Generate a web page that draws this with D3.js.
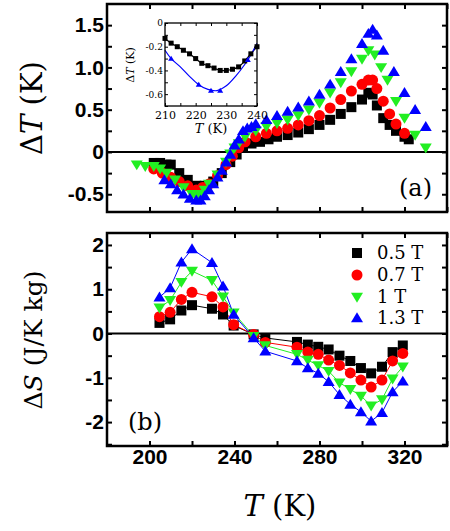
<!DOCTYPE html>
<html><head><meta charset="utf-8">
<script src="https://cdn.jsdelivr.net/npm/d3@7"></script>
<style>body{margin:0;background:#fff}</style></head>
<body><svg id="c" width="450" height="531"></svg>
<script>
// Panel (a) data: [T, dT]
const aBlack=[[202,-0.13],[205,-0.13],[208,-0.15],[210,-0.15],[214,-0.25],[218,-0.33],[222,-0.4],[226,-0.4],[230,-0.35],[234,-0.25],[238,-0.12],[241,-0.03],[244,0.05],[248,0.1],[252,0.12],[256,0.15],[260,0.18],[265,0.2],[270,0.23],[275,0.27],[280,0.32],[285,0.38],[290,0.45],[295,0.53],[300,0.62],[303,0.7],[305,0.68],[307,0.55],[310,0.4],[313,0.32],[316,0.25],[320,0.18],[322,0.15]];
const aRed=[[202,-0.2],[206,-0.25],[210,-0.3],[214,-0.35],[218,-0.4],[222,-0.45],[225,-0.42],[228,-0.38],[232,-0.28],[236,-0.15],[239,-0.05],[242,0.05],[245,0.12],[250,0.18],[255,0.22],[260,0.25],[265,0.28],[270,0.32],[275,0.37],[280,0.43],[285,0.52],[290,0.62],[295,0.72],[300,0.8],[303,0.85],[305,0.85],[307,0.75],[310,0.6],[313,0.45],[316,0.33],[320,0.22]];
const aGreen=[[194,-0.15],[198,-0.17],[202,-0.17],[205,-0.2],[208,-0.25],[212,-0.33],[216,-0.42],[220,-0.5],[222,-0.53],[224,-0.5],[226,-0.45],[228,-0.38],[232,-0.27],[236,-0.12],[238,-0.02],[240,0.05],[242,0.1],[245,0.18],[250,0.25],[255,0.3],[260,0.34],[265,0.38],[270,0.43],[275,0.5],[280,0.58],[285,0.7],[290,0.82],[295,0.95],[300,1.1],[303,1.2],[306,1.15],[309,1.0],[312,0.85],[316,0.6],[320,0.4],[325,0.2],[330,0.05]];
const aBlue=[[207,-0.33],[210,-0.38],[213,-0.45],[216,-0.5],[219,-0.55],[222,-0.57],[224,-0.57],[226,-0.52],[228,-0.45],[230,-0.38],[232,-0.3],[234,-0.22],[236,-0.12],[238,-0.03],[240,0.08],[242,0.15],[244,0.25],[246,0.28],[248,0.3],[250,0.33],[255,0.38],[260,0.43],[265,0.48],[270,0.53],[275,0.6],[280,0.68],[285,0.8],[290,0.95],[295,1.1],[300,1.28],[303,1.4],[305,1.45],[307,1.38],[310,1.2],[315,0.95],[320,0.7],[325,0.5],[330,0.3]];
// Inset data
const insBlack=[[210,-0.13],[212,-0.17],[214,-0.2],[216,-0.23],[218,-0.26],[220,-0.3],[222,-0.34],[224,-0.36],[226,-0.38],[228,-0.4],[230,-0.4],[232,-0.39],[234,-0.37],[236,-0.32],[238,-0.26],[240,-0.2]];
const insBlueLine=[[210,-0.23],[212,-0.3],[215,-0.37],[218,-0.45],[221,-0.52],[224,-0.56],[227,-0.57],[230,-0.53],[233,-0.45],[236,-0.35],[238,-0.27],[240,-0.17]];
const insBlueMarks=[[212,-0.3],[221,-0.52],[225,-0.57],[228,-0.57],[237,-0.31]];
// Panel (b) data
const bT=[204.7,209.7,215,220,229.4,234.6,239.6,249,254.5,269.4,274.5,279.4,284.3,289.4,294.5,299.5,304.3,309.4,314.4,319.2];
const bBlack=[0.24,0.32,0.52,0.64,0.56,0.43,0.18,-0.02,-0.1,-0.19,-0.25,-0.3,-0.36,-0.5,-0.62,-0.78,-0.9,-0.75,-0.42,-0.27];
const bRed=[0.38,0.48,0.77,0.93,0.83,0.6,0.2,-0.02,-0.2,-0.31,-0.42,-0.47,-0.6,-0.72,-0.89,-1.05,-1.21,-1.05,-0.62,-0.45];
const bGreen=[0.58,0.75,1.16,1.41,1.2,0.83,0.47,-0.06,-0.27,-0.47,-0.6,-0.72,-0.85,-1.11,-1.26,-1.41,-1.63,-1.49,-1.02,-0.75];
const bBlue=[0.82,1.03,1.61,1.91,1.6,1.07,0.43,-0.1,-0.4,-0.62,-0.78,-0.9,-1.09,-1.38,-1.6,-1.77,-1.98,-1.79,-1.32,-1.08];
const labels=["0.5 T","0.7 T","1 T","1.3 T"];
const colors=["#000000","#ff0000","#22ee22","#0000ff"];
const shapes=["square","circle","down","up"];
const xTicks=[200,240,280,320];
const aTicks=[-0.5,0,0.5,1.0,1.5];
const bTicks=[-2,-1,0,1,2];

const svg=d3.select("#c");
const L=107,R=447;
const x=d3.scaleLinear().domain([180,340]).range([L,R]);
const ya=d3.scaleLinear().domain([-0.71,1.75]).range([212,4]);
const yb=d3.scaleLinear().domain([-2.54,2.27]).range([446,233]);
const sans="Liberation Sans, Arial, sans-serif", serif="DejaVu Serif, serif";

function sym(g,shape,color,px,py,s){
  if(shape==="square") g.append("rect").attr("x",px-s/2).attr("y",py-s/2).attr("width",s).attr("height",s).attr("fill",color);
  else if(shape==="circle") g.append("circle").attr("cx",px).attr("cy",py).attr("r",s/2+0.5).attr("fill",color);
  else { const h=s*0.95, w=s*0.6; const d= shape==="up"
    ? `M${px},${py-h*0.6}L${px+w},${py+h*0.45}L${px-w},${py+h*0.45}Z`
    : `M${px},${py+h*0.6}L${px+w},${py-h*0.45}L${px-w},${py-h*0.45}Z`;
    g.append("path").attr("d",d).attr("fill",color);}
}
function fmtA(d){return d===0?"0":d.toFixed(1);}
function frame(y,yt,minorY,top,bot,showX,fmt){
  const g=svg.append("g");
  const xv=d3.range(200,341,20);
  const bx=g.append("g").attr("transform",`translate(0,${bot})`).call(d3.axisBottom(x).tickValues(xv).tickSize(-5).tickFormat(d=>showX&&xTicks.includes(d)?d:""));
  const tx=g.append("g").attr("transform",`translate(0,${top})`).call(d3.axisTop(x).tickValues(xv).tickSize(-5));
  const ly=g.append("g").attr("transform",`translate(${L},0)`).call(d3.axisLeft(y).tickValues(minorY).tickSize(-5).tickFormat(d=>yt.includes(d)?fmt(d):""));
  const ry=g.append("g").attr("transform",`translate(${R},0)`).call(d3.axisRight(y).tickValues(minorY).tickSize(-5));
  tx.selectAll("text").remove(); ry.selectAll("text").remove();
  if(!showX) bx.selectAll("text").remove();
  g.selectAll(".domain").remove();
  g.selectAll(".tick line").attr("stroke","#000").attr("stroke-width",2);
  g.selectAll("text").attr("font-family",sans).attr("font-size",21).attr("font-weight","bold").attr("fill","#000");
  g.append("rect").attr("x",L).attr("y",top).attr("width",R-L).attr("height",bot-top).attr("fill","none").attr("stroke","#000").attr("stroke-width",2.5);
  g.append("line").attr("x1",L).attr("x2",R).attr("y1",y(0)).attr("y2",y(0)).attr("stroke","#000").attr("stroke-width",2);
  return g;
}
// panel a
frame(ya,aTicks,d3.range(-0.5,1.51,0.25).map(v=>+v.toFixed(2)),4,212,false,fmtA);
const sa=[aBlack,aRed,aGreen,aBlue];
[0,1,2,3].forEach(i=>{const g=svg.append("g"); sa[i].forEach(p=>sym(g,shapes[i],colors[i],x(p[0]),ya(p[1]),10));});
svg.append("text").attr("x",432).attr("y",196).attr("text-anchor","end").attr("font-family",serif).attr("font-size",24).text("(a)");
// inset
const ix=d3.scaleLinear().domain([210,240]).range([165,257]);
const iy=d3.scaleLinear().domain([-0.7,0]).range([106,23]);
const gi=svg.append("g");
gi.append("rect").attr("x",165).attr("y",23).attr("width",92).attr("height",83).attr("fill","#fff");
const il=d3.line().x(d=>ix(d[0])).y(d=>iy(d[1])).curve(d3.curveCatmullRom);
gi.append("path").attr("d",il(insBlack)).attr("fill","none").attr("stroke","#000").attr("stroke-width",1.2);
gi.append("path").attr("d",il(insBlueLine)).attr("fill","none").attr("stroke","#0000ff").attr("stroke-width",1.2);
insBlack.forEach(p=>sym(gi,"square","#000",ix(p[0]),iy(p[1]),5));
insBlueMarks.forEach(p=>sym(gi,"up","#0000ff",ix(p[0]),iy(p[1]),5));
const ixv=[210,215,220,225,230,235,240], iyv=[0,-0.1,-0.2,-0.3,-0.4,-0.5,-0.6,-0.7];
const gx=gi.append("g").attr("transform","translate(0,106)").call(d3.axisBottom(ix).tickValues(ixv).tickSize(-3).tickFormat(d=>d%10===0?d:""));
const gy=gi.append("g").attr("transform","translate(165,0)").call(d3.axisLeft(iy).tickValues(iyv).tickSize(-3).tickFormat(d=>[0,-0.2,-0.4,-0.6].includes(d)?fmtA(d):""));
gi.append("g").attr("transform","translate(0,23)").call(d3.axisTop(ix).tickValues(ixv).tickSize(-3)).selectAll("text").remove();
gi.append("g").attr("transform","translate(257,0)").call(d3.axisRight(iy).tickValues(iyv).tickSize(-3)).selectAll("text").remove();
gi.selectAll(".domain").remove();
gi.selectAll(".tick line").attr("stroke","#000");
gx.selectAll("text").attr("font-family",serif).attr("font-size",11).attr("dy","0.9em");
gy.selectAll("text").attr("font-family",serif).attr("font-size",9).attr("dx","0.1em");
gi.append("rect").attr("x",165).attr("y",23).attr("width",92).attr("height",83).attr("fill","none").attr("stroke","#000").attr("stroke-width",1.3);
gi.append("text").attr("x",211).attr("y",133).attr("text-anchor","middle").attr("font-family",serif).attr("font-size",13).html('<tspan font-style="italic">T</tspan> (K)');
gi.append("text").attr("transform","translate(134,65) rotate(-90)").attr("text-anchor","middle").attr("font-family",serif).attr("font-size",11).html('Δ<tspan font-style="italic">T</tspan> (K)');
// panel b
frame(yb,bTicks,d3.range(-2.5,2.01,0.5).map(v=>+v.toFixed(1)),233,446,true,d=>String(d));
const sb=[bBlack,bRed,bGreen,bBlue];
[0,1,2,3].forEach(i=>{
  const pts=bT.map((t,j)=>[t,sb[i][j]]);
  svg.append("path").attr("d",d3.line().x(d=>x(d[0])).y(d=>yb(d[1]))(pts)).attr("fill","none").attr("stroke",colors[i]).attr("stroke-width",1);
});
[0,1,2,3].forEach(i=>{const g=svg.append("g"); bT.forEach((t,j)=>sym(g,shapes[i],colors[i],x(t),yb(sb[i][j]),10));});
svg.append("text").attr("x",128).attr("y",430).attr("font-family",serif).attr("font-size",24).text("(b)");
const lyy=[253,275,297,318];
labels.forEach((l,i)=>{const g=svg.append("g"); sym(g,shapes[i],colors[i],357,lyy[i],10);
  g.append("text").attr("x",377).attr("y",lyy[i]+6).attr("font-family",serif).attr("font-size",18).text(l);});
// axis titles
svg.append("text").attr("x",280).attr("y",516).attr("text-anchor","middle").attr("font-family",serif).attr("font-size",29).html('<tspan font-style="italic">T</tspan> (K)');
svg.append("text").attr("transform","translate(42,108) rotate(-90)").attr("text-anchor","middle").attr("font-family",serif).attr("font-size",29).html('Δ<tspan font-style="italic">T</tspan> (K)');
svg.append("text").attr("transform","translate(42,340) rotate(-90)").attr("text-anchor","middle").attr("font-family",serif).attr("font-size",25).html('Δ<tspan font-style="italic">S</tspan> (J/K kg)');
</script></body></html>
